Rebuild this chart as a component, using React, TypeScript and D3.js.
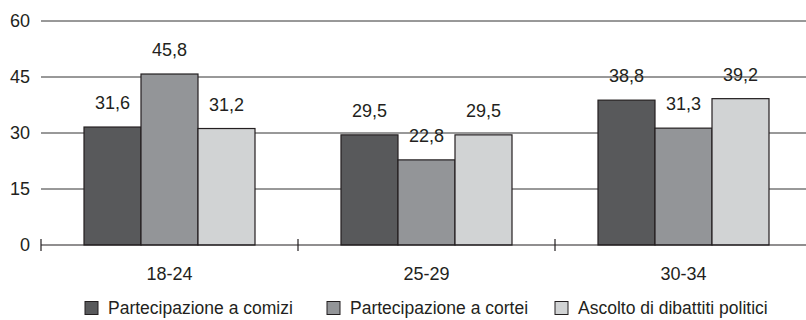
import React from "react";
import * as d3 from "d3";

const categories = ["18-24", "25-29", "30-34"];
const seriesNames = ["Partecipazione a comizi", "Partecipazione a cortei", "Ascolto di dibattiti politici"];
const comizi = [31.6, 29.5, 38.8];
const cortei = [45.8, 22.8, 31.3];
const dibattiti = [31.2, 29.5, 39.2];
const yTicks = [0, 15, 30, 45, 60];
const colors = ["#58595b", "#939598", "#d1d3d4"];

const W = 806;
const H = 320;
const FONT = "'Liberation Sans', Arial, sans-serif";
const fmt = (v: number) => v.toFixed(1).replace(".", ",");

export default function App() {
  const series = [comizi, cortei, dibattiti];
  const x0 = d3.scaleBand<string>().domain(categories).range([41, 812]).paddingInner(0).paddingOuter(0);
  const x1 = d3.scaleBand<number>().domain([0, 1, 2]).range([0, 171]);
  const groupOffset = (x0.bandwidth() - 171) / 2;
  const y = d3.scaleLinear().domain([0, 60]).range([245, 21]);

  return (
    <svg width={W} height={H} style={{ position: "absolute", left: 0, top: 0, background: "#fff" }} fontFamily={FONT}>
      {yTicks.map((t) => (
        <g key={t}>
          {t > 0 && <line x1={41} x2={W} y1={y(t)} y2={y(t)} stroke="#333" strokeWidth={1} />}
          <text x={30} y={y(t)} dy="0.36em" textAnchor="end" fontSize={18} fill="#231f20">{t}</text>
        </g>
      ))}
      {categories.map((c, i) => (
        <g key={c}>
          {series.map((s, k) => {
            const bx = (x0(c) as number) + groupOffset + (x1(k) as number);
            const bw = x1.bandwidth();
            return (
              <g key={k}>
                <rect x={bx} y={y(s[i])} width={bw} height={y(0) - y(s[i])} fill={colors[k]} stroke="#231f20" strokeWidth={1.2} />
                <text x={bx + bw / 2} y={y(s[i]) - 18} textAnchor="middle" fontSize={18} fill="#231f20">{fmt(s[i])}</text>
              </g>
            );
          })}
          <text x={(x0(c) as number) + x0.bandwidth() / 2} y={280} textAnchor="middle" fontSize={18} fill="#231f20">{c}</text>
        </g>
      ))}
      <line x1={41} x2={W} y1={y(0)} y2={y(0)} stroke="#231f20" strokeWidth={1.2} />
      {categories.map((c) => (
        <line key={c} x1={x0(c) as number} x2={x0(c) as number} y1={y(0) - 6} y2={y(0) + 6} stroke="#231f20" strokeWidth={1.2} />
      ))}
      {seriesNames.map((n, k) => {
        const lx = [85, 327, 555][k];
        return (
          <g key={n}>
            <rect x={lx} y={301.5} width={13} height={13} fill={colors[k]} stroke="#231f20" strokeWidth={1} />
            <text x={lx + 23} y={314} fontSize={17.5} fill="#231f20">{n}</text>
          </g>
        );
      })}
    </svg>
  );
}
